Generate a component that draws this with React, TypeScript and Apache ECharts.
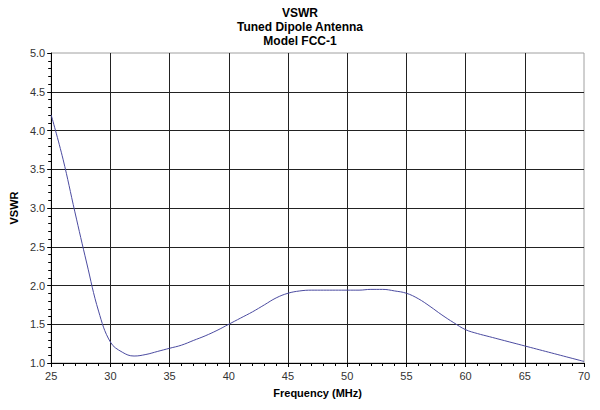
import React, { useEffect, useRef } from "react";
import * as echarts from "echarts";

// Measured VSWR across the band, 1 MHz steps
const frequencies = [
  25, 26, 27, 28, 29, 30, 31, 32, 33, 34, 35, 36, 37, 38, 39, 40, 41, 42, 43, 44, 45, 46, 47,
  48, 49, 50, 51, 52, 53, 54, 55, 56, 57, 58, 59, 60, 61, 62, 63, 64, 65, 66, 67, 68, 69, 70,
];
const vswr = [
  4.2, 3.63, 2.95, 2.29, 1.67, 1.27, 1.14, 1.09, 1.11, 1.15, 1.19, 1.23, 1.29, 1.35, 1.42, 1.5,
  1.58, 1.66, 1.75, 1.84, 1.9, 1.93, 1.94, 1.94, 1.94, 1.94, 1.94, 1.95, 1.95, 1.93, 1.9, 1.83,
  1.73, 1.62, 1.52, 1.43, 1.38, 1.34, 1.3, 1.26, 1.22, 1.18, 1.14, 1.1, 1.06, 1.02,
];
const titleLines = ["VSWR", "Tuned Dipole Antenna", "Model FCC-1"];
const xName = "Frequency (MHz)";
const yName = "VSWR";

const font = "Arial, 'Liberation Sans', sans-serif";

export default function App() {
  const ref = useRef<HTMLDivElement>(null);

  useEffect(() => {
    if (!ref.current) return;
    const chart = echarts.init(ref.current, null, { renderer: "svg" });
    chart.setOption({
      animation: false,
      backgroundColor: "#ffffff",
      title: {
        text: titleLines.join("\n"),
        left: "center",
        top: 6,
        padding: 0,
        textStyle: {
          fontFamily: font,
          fontSize: 12,
          fontWeight: "bold",
          color: "#000",
          lineHeight: 14,
          align: "center",
        },
      },
      grid: {
        left: 46,
        right: 16,
        top: 53,
        bottom: 47,
        show: true,
        borderColor: "#a0a0a0",
        borderWidth: 1,
        backgroundColor: "transparent",
      },
      xAxis: {
        type: "value",
        min: 25,
        max: 70,
        interval: 5,
        name: xName,
        nameLocation: "middle",
        nameGap: 24,
        nameTextStyle: { fontFamily: font, fontSize: 11, fontWeight: "bold", color: "#000" },
        axisLine: { lineStyle: { color: "#000", width: 1 } },
        axisTick: { show: true, length: 4, lineStyle: { color: "#000" } },
        minorTick: { show: true, splitNumber: 5, length: 3, lineStyle: { color: "#000" } },
        axisLabel: { fontFamily: font, fontSize: 11, color: "#333", margin: 7 },
        splitLine: {
          show: true,
          showMinLine: false,
          showMaxLine: false,
          lineStyle: { color: "#222", width: 1 },
        },
      },
      yAxis: {
        type: "value",
        min: 1,
        max: 5,
        interval: 0.5,
        name: yName,
        nameLocation: "middle",
        nameGap: 27,
        nameTextStyle: { fontFamily: font, fontSize: 11, fontWeight: "bold", color: "#000" },
        axisLine: { show: true, lineStyle: { color: "#000", width: 1 } },
        axisTick: { show: true, length: 4, lineStyle: { color: "#000" } },
        minorTick: { show: true, splitNumber: 5, length: 3, lineStyle: { color: "#000" } },
        axisLabel: {
          fontFamily: font,
          fontSize: 11,
          color: "#333",
          margin: 6,
          formatter: (v: number) => v.toFixed(1),
        },
        splitLine: {
          show: true,
          showMinLine: false,
          showMaxLine: false,
          lineStyle: { color: "#222", width: 1 },
        },
      },
      series: [
        {
          type: "line",
          data: frequencies.map((f, i) => [f, vswr[i]]),
          smooth: 0.4,
          showSymbol: false,
          lineStyle: { color: "#4b4ba0", width: 1 },
          silent: true,
        },
      ],
    });
    return () => chart.dispose();
  }, []);

  return <div ref={ref} style={{ width: 600, height: 410, position: "absolute", left: 0, top: 0 }} />;
}
